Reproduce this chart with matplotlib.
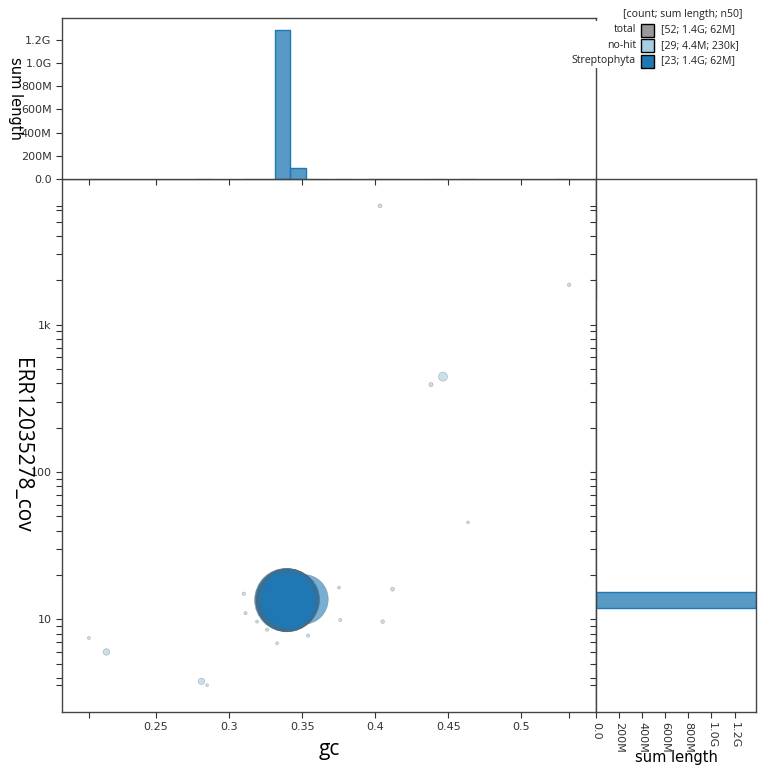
import numpy as np
import matplotlib

matplotlib.use("Agg")
import matplotlib.pyplot as plt
from matplotlib.colors import to_rgba
from matplotlib.patches import Rectangle
from matplotlib.ticker import FixedLocator, FuncFormatter, NullFormatter

COV_NAME = "ERR12035278_cov"
CATEGORIES = ["no-hit", "Streptophyta"]
COLOURS = {"total": "#999999", "no-hit": "#a6cee3", "Streptophyta": "#1f78b4"}

# no-hit contigs (gc, coverage, length in bp); the last ten sit under the big blob
nohit_gc = [0.4032, 0.5326, 0.4463, 0.4381, 0.4634, 0.4118, 0.3751, 0.3100, 0.3112, 0.3191,
            0.3260, 0.3328, 0.3540, 0.3760, 0.4050, 0.2040, 0.2160, 0.2810, 0.2849,
            0.3395, 0.3402, 0.3388, 0.3406, 0.3398, 0.3404, 0.3392, 0.3401, 0.3396, 0.3400]
nohit_cov = [6412, 1866, 444, 392, 45.5, 16.0, 16.4, 14.9, 11.0, 9.64,
             8.51, 6.87, 7.75, 9.89, 9.64, 7.47, 6.00, 3.79, 3.57,
             13.4, 13.6, 13.2, 13.5, 13.8, 13.3, 13.7, 13.1, 13.9, 13.5]
nohit_len = [60e3, 45e3, 500e3, 70e3, 25e3, 60e3, 30e3, 40e3, 35e3, 30e3,
             40e3, 30e3, 40e3, 30e3, 50e3, 30e3, 220e3, 215e3, 25e3,
             420e3, 390e3, 350e3, 320e3, 232e3, 225e3, 223e3, 222e3, 222e3, 221e3]

# Streptophyta contigs (the lighter one at gc 0.35 lies underneath the main blob)
strep_gc = [0.3507, 0.3389, 0.3393, 0.3398, 0.3402, 0.3395, 0.3405, 0.3391, 0.3400, 0.3407,
            0.3396, 0.3403, 0.3399, 0.3392, 0.3406, 0.3401, 0.3394, 0.3404, 0.3397, 0.3422,
            0.3408, 0.3399, 0.3402]
strep_cov = [13.65, 13.5, 13.6, 13.4, 13.5, 13.3, 13.6, 13.4, 13.7, 13.5,
             13.2, 13.4, 13.8, 13.6, 13.3, 13.5, 13.7, 13.2, 13.5, 13.6,
             13.4, 13.9, 13.1]
strep_len = [39e6, 70e6, 69e6, 68e6, 67e6, 66e6, 65e6, 64e6, 63e6, 63e6,
             62e6, 62e6, 61e6, 60e6, 59e6, 58e6, 57e6, 56e6, 56e6, 56e6,
             55e6, 54e6, 52e6]

N_BINS = 31
PAD = 0.056


def human(v):
    for suf, sc in (("G", 1e9), ("M", 1e6), ("k", 1e3)):
        if v >= sc:
            x = float(f"{v / sc:.2g}")
            return (f"{x:.1f}" if x < 10 else f"{x:.0f}") + suf
    return f"{v:.0f}"


def n50(lengths):
    s = np.sort(np.asarray(lengths))[::-1]
    c = np.cumsum(s)
    return s[np.searchsorted(c, c[-1] / 2)]


def marker_area(lengths):
    # diameter in px grows with length ** 0.395, converted to points^2
    d_px = 63.0 * (np.asarray(lengths) / 7e7) ** 0.395
    return (d_px * 0.72) ** 2


def len_fmt(v, _pos=None):
    if v == 0:
        return "0.0"
    if v >= 1e9:
        return f"{v / 1e9:.1f}G"
    return f"{v / 1e6:.0f}M"


def cov_fmt(v, _pos=None):
    return "1k" if v >= 1000 else f"{v:.0f}"


data = {
    "no-hit": (np.array(nohit_gc), np.array(nohit_cov), np.array(nohit_len)),
    "Streptophyta": (np.array(strep_gc), np.array(strep_cov), np.array(strep_len)),
}
all_gc = np.concatenate([data[c][0] for c in CATEGORIES])
all_cov = np.concatenate([data[c][1] for c in CATEGORIES])
all_len = np.concatenate([data[c][2] for c in CATEGORIES])

gmin, gmax = all_gc.min(), all_gc.max()
lmin, lmax = np.log10(all_cov.min()), np.log10(all_cov.max())
xbins = np.linspace(gmin, gmax, N_BINS + 1)
ybins = 10 ** np.linspace(lmin, lmax, N_BINS + 1)

fig = plt.figure(figsize=(7.68, 7.75), dpi=100)
L, R, B, T = 62 / 768, 596 / 768, 63 / 775, 596 / 775
ax = fig.add_axes([L, B, R - L, T - B])
ax_top = fig.add_axes([L, T, R - L, 757 / 775 - T], sharex=ax)
ax_right = fig.add_axes([R, B, 756 / 768 - R, T - B], sharey=ax)

for cat in CATEGORIES:
    gc, cov, ln = data[cat]
    ax.scatter(gc, cov, s=marker_area(ln), facecolor=to_rgba(COLOURS[cat], 0.6),
               edgecolor=to_rgba("#666666", 0.4), linewidth=0.5, zorder=2)

hist_max = 0
for cat in CATEGORIES:
    gc, cov, ln = data[cat]
    face = to_rgba(COLOURS[cat], 0.75)
    h1, _ = np.histogram(gc, bins=xbins, weights=ln)
    h2, _ = np.histogram(cov, bins=ybins, weights=ln)
    nz1, nz2 = h1 > 0, h2 > 0
    ax_top.bar(xbins[:-1][nz1], h1[nz1], width=np.diff(xbins)[nz1], align="edge",
               facecolor=face, edgecolor=COLOURS[cat], linewidth=1)
    ax_right.barh(ybins[:-1][nz2], h2[nz2], height=np.diff(ybins)[nz2], align="edge",
                  facecolor=face, edgecolor=COLOURS[cat], linewidth=1)
    hist_max = max(hist_max, h1.max(), h2.max())

ax.set_yscale("log")
ax.set_xlim(gmin - PAD * (gmax - gmin), gmax + PAD * (gmax - gmin))
ax.set_ylim(10 ** (lmin - PAD * (lmax - lmin)), 10 ** (lmax + PAD * (lmax - lmin)))

# ticks only inside the data range, plus the range ends
xmaj = [v for v in np.arange(0.05, 1.0, 0.05) if gmin <= v <= gmax]
ax.xaxis.set_major_locator(FixedLocator(xmaj))
ax.xaxis.set_minor_locator(FixedLocator([gmin, gmax]))
ax.xaxis.set_major_formatter(FuncFormatter(lambda v, p: f"{v:g}"))
ymaj = [10.0 ** d for d in range(-1, 7) if all_cov.min() <= 10.0 ** d <= all_cov.max()]
ymin_ = [k * 10.0 ** d for d in range(-1, 7) for k in range(2, 10)
         if all_cov.min() <= k * 10.0 ** d <= all_cov.max()]
ax.yaxis.set_major_locator(FixedLocator(ymaj))
ax.yaxis.set_minor_locator(FixedLocator(ymin_ + [all_cov.min(), all_cov.max()]))
ax.yaxis.set_major_formatter(FuncFormatter(cov_fmt))
ax.yaxis.set_minor_formatter(NullFormatter())

len_ticks = np.arange(0, hist_max, 2e8)
lim = hist_max * 1.003
ax_top.set_ylim(0, lim)
ax_top.yaxis.set_major_locator(FixedLocator(len_ticks))
ax_top.yaxis.set_major_formatter(FuncFormatter(len_fmt))
ax_right.set_xlim(0, lim)
ax_right.xaxis.set_major_locator(FixedLocator(len_ticks))
ax_right.xaxis.set_major_formatter(FuncFormatter(len_fmt))

ax_top.tick_params(axis="x", which="both", labelbottom=False)
ax_right.tick_params(axis="y", which="both", labelleft=False)
ax_right.tick_params(axis="x", labelrotation=-90)

for a in (ax, ax_top, ax_right):
    a.tick_params(which="both", colors="#333333", labelsize=8, length=4, width=0.8)
    for sp in a.spines.values():
        sp.set_color("#444444")
        sp.set_linewidth(1.0)
        sp.set_zorder(3)

ax.set_xlabel("gc", family="Open Sans", fontsize=15, va="center")
ax.xaxis.set_label_coords(0.5, -0.071)
ax.set_ylabel(COV_NAME, family="Open Sans", fontsize=15, rotation=270, va="center", ha="center")
ax.yaxis.set_label_coords(-0.075, 0.5)
ax_top.set_ylabel("sum length", fontsize=10.5, rotation=270, va="center", ha="center")
ax_top.yaxis.set_label_coords(-0.088, 0.5)
ax_right.set_xlabel("sum length", fontsize=10.5, va="center")
ax_right.xaxis.set_label_coords(0.5, -0.086)


# legend block, drawn by hand in figure pixels
def fx(px):
    return px / 768


def fy(py):
    return 1 - py / 775


fig.patches.append(Rectangle((fx(590), fy(68)), fx(768) - fx(590), fy(21) - fy(68),
                             transform=fig.transFigure, facecolor="white",
                             edgecolor="none", zorder=5))
leg_font = dict(family="Open Sans", fontsize=7.6, color="#222222", zorder=6)
fig.text(fx(683), fy(15), "[count; sum length; n50]", ha="center", va="center", **leg_font)
rows = [("total", all_len)] + [(c, data[c][2]) for c in CATEGORIES]
for i, (name, ln) in enumerate(rows):
    y = 30 + i * 15.5
    fig.text(fx(636), fy(y), name, ha="right", va="center", **leg_font)
    fig.patches.append(Rectangle((fx(641), fy(y + 6.5)), fx(13), 13 / 775,
                                 transform=fig.transFigure, facecolor=COLOURS[name],
                                 edgecolor="black", linewidth=1, zorder=6))
    stats = f"[{len(ln)}; {human(np.sum(ln))}; {human(n50(ln))}]"
    fig.text(fx(661), fy(y), stats, ha="left", va="center", **leg_font)

fig.savefig("out.png", dpi=100)
